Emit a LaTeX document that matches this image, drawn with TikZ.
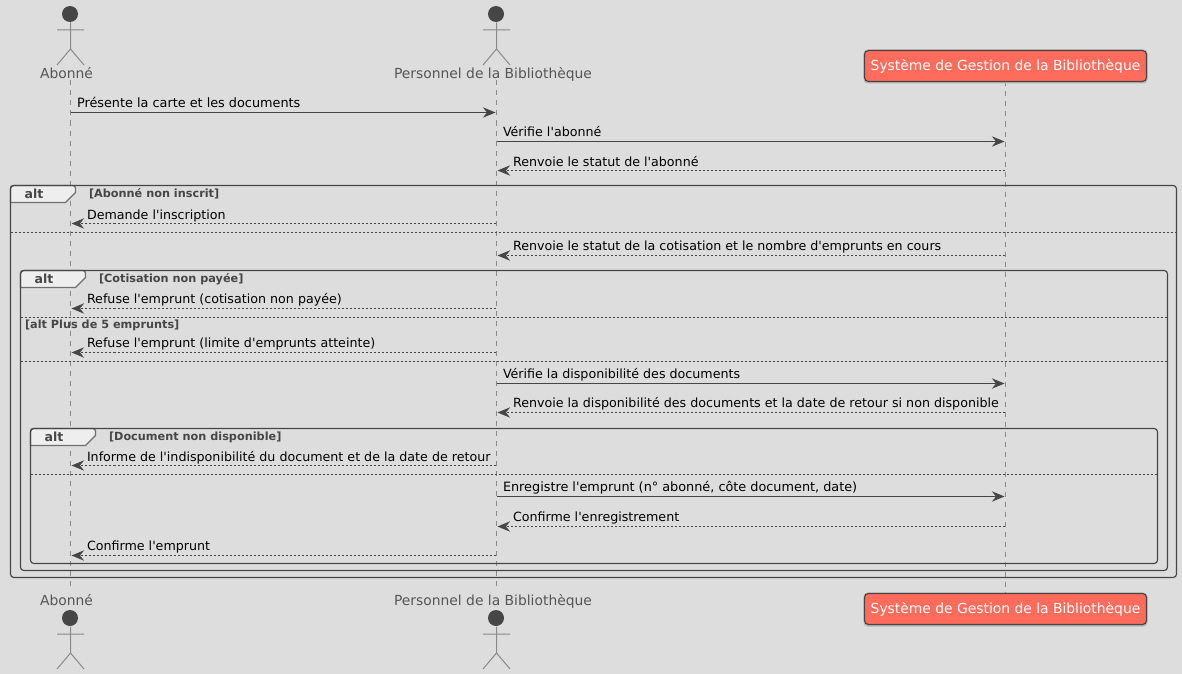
\documentclass[tikz,border=0pt]{standalone}
\usepackage{fontspec}
\setmainfont{DejaVu Sans}[Ligatures=TeXOff]
\usetikzlibrary{arrows.meta}
\definecolor{bgc}{HTML}{DDDDDD}
\definecolor{ink}{HTML}{454645}
\definecolor{lifec}{HTML}{8A8A8A}
\definecolor{labc}{HTML}{555555}
\definecolor{boxc}{HTML}{FF6C5C}
\definecolor{tabc}{HTML}{EEEEEE}
\definecolor{tabline}{HTML}{707070}
\definecolor{shadowc}{HTML}{B4B4B4}
\tikzset{
  every node/.style={inner sep=0pt,outer sep=0pt},
  lifeline/.style={lifec,line width=.75pt,dash pattern=on 3.75pt off 3.75pt},
  msgtext/.style={anchor=base west,xshift=-.375pt,font=\fontsize{9.5}{11}\selectfont,text=black},
  widetext/.style={font=\fontsize{9.62}{11}\selectfont},
  actortext/.style={anchor=base,xshift=-.375pt,font=\fontsize{10.4}{12}\selectfont,text=labc},
  guardtext/.style={anchor=base west,xshift=-.375pt,font=\fontsize{8.45}{10}\selectfont\bfseries,text=ink},
  alttext/.style={anchor=base,font=\fontsize{9.4}{12}\selectfont\bfseries,text=ink},
  syncmsg/.style={ink,line width=.75pt,-{Stealth[length=9.5pt,width=7.8pt,inset=3.2pt]}},
  replymsg/.style={ink,line width=.75pt,dash pattern=on 1.5pt off 1.5pt,-{Stealth[length=9.5pt,width=7.8pt,inset=3.2pt]}},
  framebox/.style={ink,line width=.85pt,rounded corners=2.5pt},
  sepline/.style={ink,line width=.75pt,dash pattern=on 1.5pt off 1.5pt},
  actorline/.style={draw=lifec,line width=.75pt},
  sysbox/.style={draw=ink,fill=boxc,line width=.85pt,rounded corners=3pt,minimum width=211.5pt,minimum height=23.25pt,text=white,font=\fontsize{10.4}{12}\selectfont},
}
\newcommand{\actorfig}[3]{% name, x, y of head centre (px)
  \fill[ink] (#2-.5,#3-.5) circle (6pt);
  \draw[actorline] (#2,#3+8) -- (#2,#3+34.5)
    (#2-13.5,#3+15.5) -- (#2+13.5,#3+15.5)
    (#2-13.5,#3+50.5) -- (#2,#3+34.5) -- (#2+13.5,#3+50.5);
}
\newcommand{\altframe}[5]{% name,left,right,top,bottom
  \draw[tabline,fill=tabc,line width=1.05pt] (#2,#4+17) -- (#2,#4+2) [rounded corners=2pt] -- (#2,#4) -- (#2+65,#4) [sharp corners] -- (#2+65,#4+7) -- (#2+55,#4+17) -- cycle;
  \draw[framebox] (#2,#4) rectangle (#3,#5);
  \node[alttext] (#1) at (#2+23.5,#4+13) {alt};
}
\newcommand{\msg}[5]{% name, style, x from, x to, y
  \coordinate (#1s) at (#3,#5);
  \coordinate (#1e) at (#4,#5);
  \draw[#2] (#1s) -- (#1e);
}
\begin{document}
\begin{tikzpicture}[x=.75pt,y=-.75pt]
\useasboundingbox[fill=bgc] (0,0) rectangle (1182,674);
\begin{scope}[shift={(.5,.5)}]
% lifelines
\coordinate (la1) at (70,80); \coordinate (lb1) at (70,590);
\coordinate (la2) at (496,80); \coordinate (lb2) at (496,590);
\coordinate (la3) at (1005,81); \coordinate (lb3) at (1005,593);
\draw[lifeline] (la1) -- (lb1);
\draw[lifeline] (la2) -- (lb2);
\draw[lifeline] (la3) -- (lb3);
% frames
\altframe{f1}{10}{1176}{185}{577}
\altframe{f2}{20}{1167}{270}{570}
\altframe{f3}{30}{1157}{428}{563}
\coordinate (s1a) at (10,232); \coordinate (s1b) at (1176,232); \draw[sepline] (s1a) -- (s1b);
\coordinate (s2a) at (20,317); \coordinate (s2b) at (1167,317); \draw[sepline] (s2a) -- (s2b);
\coordinate (s3a) at (20,361); \coordinate (s3b) at (1167,361); \draw[sepline] (s3a) -- (s3b);
\coordinate (s4a) at (30,474); \coordinate (s4b) at (1157,474); \draw[sepline] (s4a) -- (s4b);
\node[guardtext] (g1) at (89,197) {[Abonné non inscrit]};
\node[guardtext] (g2) at (99,282) {[Cotisation non payée]};
\node[guardtext] (g3) at (25,328) {[alt Plus de 5 emprunts]};
\node[guardtext] (g4) at (109,440) {[Document non disponible]};
% actors
\actorfig{a1}{70}{14}
\actorfig{a2}{496}{14}
\actorfig{a1b}{70}{618}
\actorfig{a2b}{496}{618}
\node[actortext] (n1) at (66.5,78) {Abonné};
\node[actortext] (n2) at (493,78) {Personnel de la Bibliothèque};
\node[actortext] (n1b) at (66.5,605) {Abonné};
\node[actortext] (n2b) at (493,605) {Personnel de la Bibliothèque};
% system boxes
\fill[shadowc,rounded corners=3pt] (863,49) rectangle (1147,83);
\fill[shadowc,rounded corners=3pt] (863,592) rectangle (1147,626);
\node[sysbox] (sys) at (1005,65.5) {Système de Gestion de la Bibliothèque};
\node[sysbox] (sysb) at (1005,608.5) {Système de Gestion de la Bibliothèque};
% messages
\msg{m1}{syncmsg}{70}{495}{112}
\msg{m2}{syncmsg}{496}{1004}{141}
\msg{m3}{replymsg}{1004}{497}{170}
\msg{m4}{replymsg}{495}{71}{223}
\msg{m5}{replymsg}{1004}{497}{255}
\msg{m6}{replymsg}{495}{71}{308}
\msg{m7}{replymsg}{495}{71}{352}
\msg{m8}{syncmsg}{496}{1004}{383}
\msg{m9}{replymsg}{1004}{497}{412}
\msg{m10}{replymsg}{495}{71}{465}
\msg{m11}{syncmsg}{496}{1004}{496}
\msg{m12}{replymsg}{1004}{497}{526}
\msg{m13}{replymsg}{495}{71}{555}
\node[msgtext,widetext] (t1) at (77,107) {Présente la carte et les documents};
\node[msgtext] (t2) at (503,136) {Vérifie l'abonné};
\node[msgtext] (t3) at (513,166) {Renvoie le statut de l'abonné};
\node[msgtext] (t4) at (87,219) {Demande l'inscription};
\node[msgtext] (t5) at (513,250) {Renvoie le statut de la cotisation et le nombre d'emprunts en cours};
\node[msgtext] (t6) at (87,303) {Refuse l'emprunt (cotisation non payée)};
\node[msgtext] (t7) at (87,347) {Refuse l'emprunt (limite d'emprunts atteinte)};
\node[msgtext] (t8) at (503,378) {Vérifie la disponibilité des documents};
\node[msgtext] (t9) at (513,407) {Renvoie la disponibilité des documents et la date de retour si non disponible};
\node[msgtext] (t10) at (87,461) {Informe de l'indisponibilité du document et de la date de retour};
\node[msgtext,widetext] (t11) at (503,491) {Enregistre l'emprunt (n° abonné, côte document, date)};
\node[msgtext] (t12) at (513,521) {Confirme l'enregistrement};
\node[msgtext] (t13) at (87,550) {Confirme l'emprunt};
\end{scope}
\end{tikzpicture}
\end{document}
